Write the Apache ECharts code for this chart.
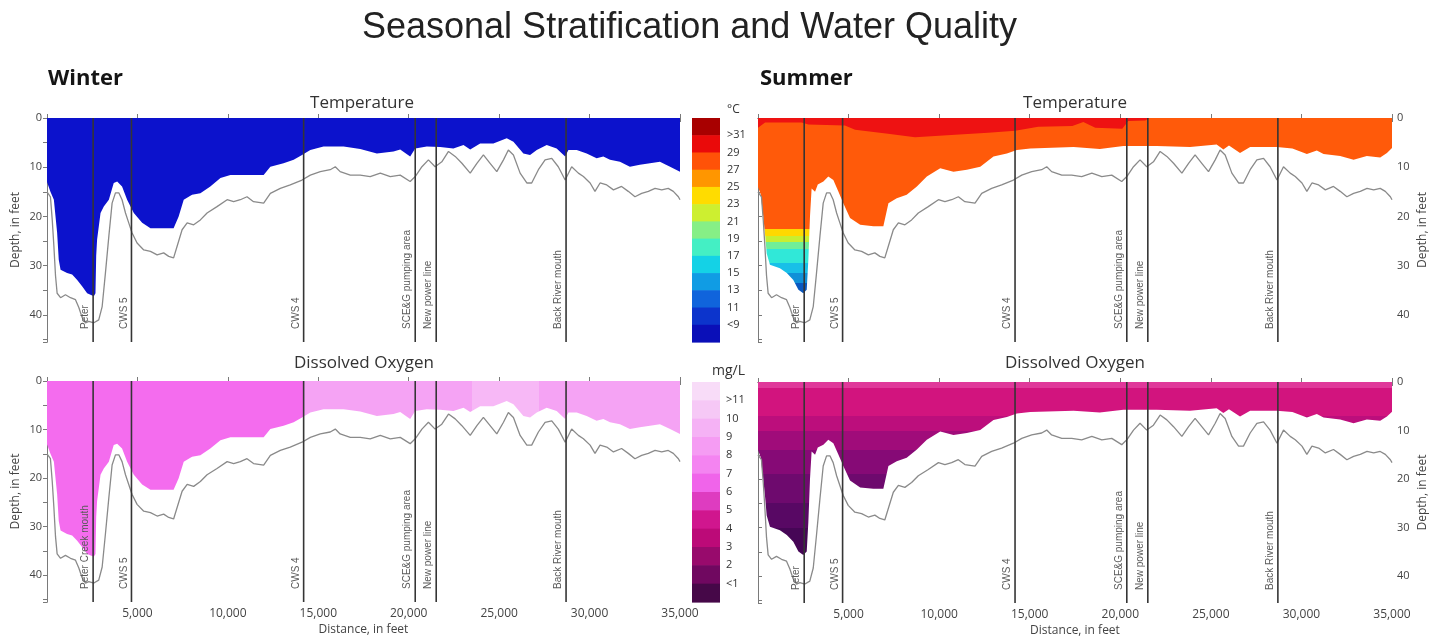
<!DOCTYPE html>
<html><head><meta charset="utf-8">
<script src="https://cdn.jsdelivr.net/npm/echarts@6.0.0/dist/echarts.min.js"></script>
<style>html,body{margin:0;padding:0;background:#fff;}#chart{width:1445px;height:640px;}</style>
</head><body><div id="chart"></div>
<script>
// ---------------- DATA ----------------
// River-bed profile: [distance ft, depth ft]
const bedDepth = [[0,15],[190,16],[290,20.7],[380,26],[470,32],[560,35.6],[750,36.5],[1020,35.9],[1300,36.5],[1575,36.9],[1760,38.5],[1940,40.5],[2130,41.6],[2310,41.3],[2590,41.6],[2860,41],[3050,38.3],[3230,31.5],[3420,24],[3600,17.3],[3785,15.2],[3970,15.2],[4150,16.6],[4340,19.3],[4520,21.3],[4700,23.3],[4980,25.4],[5350,26.8],[5720,27.1],[6090,27.8],[6450,27.4],[6730,28.1],[7000,28.4],[7190,26.1],[7470,22.7],[7750,21.3],[8110,21.7],[8480,20.7],[8850,19.3],[9400,18],[9960,16.6],[10320,17],[10690,16.6],[11060,16],[11420,17],[11980,17.3],[12350,15.3],[12900,14.3],[13450,13.6],[14100,12.6],[14560,11.6],[15110,10.9],[15660,10.5],[15940,9.9],[16210,10.9],[16770,11.6],[17320,11.6],[17870,11.9],[18430,11.2],[18980,11.9],[19530,11.6],[20080,12.9],[20360,11.9],[20730,9.9],[21090,8.5],[21460,9.9],[21830,8.9],[22200,6.8],[22570,7.8],[22940,9.2],[23400,11.2],[23770,9.2],[24130,7.5],[24500,9.2],[24870,10.9],[25240,8.5],[25510,6.5],[25790,7.5],[26160,11.2],[26530,13.2],[26800,13.2],[27170,10.5],[27540,8.5],[27910,8.2],[28270,9.9],[28650,12.6],[29010,9.9],[29380,11.2],[29660,11.9],[30030,13.2],[30300,14.9],[30580,13.2],[30950,13.6],[31320,14.6],[31770,13.9],[32140,14.9],[32510,16],[32880,15.3],[33250,14.9],[33620,14.3],[33990,14.6],[34350,14.3],[34630,14.9],[34910,16],[35000,16.6]];

// Bottom of the measured (coloured) water section, winter survey
const winterExtent = [[0,13],[190,15],[380,16.6],[560,23.3],[650,28.8],[750,30.8],[1110,31.5],[1390,31.8],[1670,32.9],[1940,34.2],[2220,35.6],[2590,36.2],[2680,35.6],[2720,28],[2770,24.7],[2960,19.3],[3140,18],[3420,16.6],[3690,13.2],[3880,12.9],[4150,13.9],[4430,16.6],[4800,19.3],[5260,21.3],[5720,22.4],[6270,22.4],[7000,22.4],[7280,20],[7560,16.6],[8020,15.6],[8480,15.3],[9030,13.9],[9590,12.2],[10140,11.6],[10870,11.6],[11980,11.6],[12350,9.9],[13080,9.2],[13640,8.5],[14100,7.5],[14560,6.5],[15290,5.8],[16400,5.8],[17320,6.3],[18240,7.2],[19160,6.8],[19530,6.4],[20080,7.8],[20360,6.2],[21000,5.8],[21740,5.9],[22470,6.2],[23030,5.5],[23400,6.4],[23950,5.2],[24680,5.2],[25420,4.1],[25790,4.8],[26340,7.2],[26710,7.5],[27080,6.5],[27630,5.5],[28180,6.2],[28650,7.8],[28830,6.5],[29290,6.5],[29840,7.2],[30390,8.2],[30760,7.8],[31130,8.5],[31680,8.9],[32230,9.9],[32780,9.5],[33340,9.2],[33890,8.9],[34450,9.9],[35000,10.9]];

// Bottom of the measured (coloured) water section, summer survey
const summerExtent = [[0,14],[150,15.5],[290,20],[400,24],[480,27.5],[660,29.8],[1210,30.5],[1590,31.5],[1950,32.9],[2230,34.9],[2500,35.6],[2690,34.9],[2780,28.8],[2870,20],[2960,14.3],[3150,15],[3300,13.5],[3610,12.9],[3880,11.9],[4160,12.6],[4430,14.9],[4710,17.3],[5080,20.3],[5640,21.7],[6370,22],[6920,22],[7200,17.3],[7660,16.3],[8210,15.6],[8770,13.9],[9320,11.9],[10060,10.2],[10790,10.9],[11530,10.5],[12270,9.9],[13000,7.8],[13740,7.2],[14290,6.5],[15030,6.2],[17420,5.9],[18870,6.3],[20170,5.7],[22010,5.7],[23850,5.9],[25320,5.4],[25690,6.4],[26000,5.6],[26610,7.1],[27170,5.9],[28640,5.9],[29500,6.2],[30300,7.3],[30850,6.6],[31220,7.3],[32140,7.7],[32880,8.5],[33610,7.7],[34350,8.0],[34720,7.1],[35000,6.1]];

// Summer warm surface layer (29-31 °C) bottom depth
const summerWarmLayer = [[0,2.0],[390,0.9],[2410,0.9],[2780,1.3],[4800,1.5],[5360,2.4],[7180,3.2],[8670,3.9],[10880,3.4],[12700,3.0],[14200,2.6],[15470,1.8],[17350,1.6],[17960,0.8],[18620,2.0],[20110,2.2],[20440,0.6],[21380,0.5],[21600,0]];

// Landmarks along the section
const markerDistances = [2550, 4670, 14190, 20360, 21520, 28700];
const markerLabels = ['Peter', 'CWS 5', 'CWS 4', 'SCE&G pumping area', 'New power line', 'Back River mouth'];
const markerLabelsWinterDO = ['Peter Creek mouth', 'CWS 5', 'CWS 4', 'SCE&G pumping area', 'New power line', 'Back River mouth'];

// Colour scales
const tempLegendLabels = ['>31','29','27','25','23','21','19','17','15','13','11','<9'];
const tempLegendColors = ['#a80000','#ea0a0a','#ff5208','#ff9600','#ffdc00','#cdef30','#86ef86','#44efc4','#14d2e6','#109ce4','#1064dc','#0c34cc','#0a0fb8'];
const doLegendLabels = ['>11','10','9','8','7','6','5','4','3','2','<1'];
const doLegendColors = ['#f8dcf8','#f6c8f6','#f5b2f5','#f59cf3','#f484f1','#f064ea','#de3cc0','#d0168e','#bc0a78','#980a6c','#700860','#460848'];

// Depth bands [fromDepth, toDepth, colour]
const summerTempDepthBands = [[-5,22.6,'#ff5a0a'],[22.6,24.0,'#ffd800'],[24.0,25.2,'#c8ee30'],[25.2,26.6,'#70ee98'],[26.6,29.5,'#30e8d8'],[29.5,31.5,'#18c0e8'],[31.5,33.5,'#1090d8'],[33.5,60,'#0a58c0']];
const summerDODepthBands = [[-5,1.2,'#e0389a'],[1.2,7.0,'#d2147e'],[7.0,10,'#bc0e7c'],[10,14,'#a00c7a'],[14,19,'#860a76'],[19,25,'#6e0a6e'],[25,30,'#580864'],[30,60,'#460656']];
// Distance zones [fromDist, toDist, colour]
const winterDODistanceZones = [[-1000,14190,'#f46cee'],[14190,23500,'#f5a3f4'],[23500,27200,'#f7b8f6'],[27200,40000,'#f5a3f4']];
const winterTempColor = '#0c12cc';
const summerWarmColor = '#ee1212';

// ---------------- CHART ----------------
const DEPTH_MAX = 45.5;
const chart = echarts.init(document.getElementById('chart'), null, {renderer: 'canvas'});
const FONT = 'Open Sans';
const grids = [
  {left: 47, top: 118, width: 633, height: 224},   // winter temp
  {left: 758, top: 118, width: 634, height: 224},  // summer temp
  {left: 47, top: 381, width: 633, height: 221},   // winter DO
  {left: 758, top: 382, width: 634, height: 221},  // summer DO
  {left: 692, top: 118, width: 28, height: 224},   // temp colour bar
  {left: 692, top: 382, width: 28, height: 220}    // DO colour bar
];
const axisColor = '#7a7a7a';
const xAxes = [], yAxes = [];
for (let g = 0; g < 4; g++) {
  const bottomRow = g >= 2;
  xAxes[g] = {gridIndex: g, type: 'value', min: 0, max: 35000, interval: 5000, position: 'bottom',
    axisLine: {show: true, lineStyle: {color: axisColor}}, axisTick: {show: true, inside: true, length: 4, lineStyle: {color: axisColor}},
    splitLine: {show: false},
    axisLabel: {show: bottomRow, color: '#444', fontSize: 12, fontFamily: FONT, margin: 6,
      formatter: v => (v === 0 ? '' : v.toLocaleString('en-US'))},
    name: bottomRow ? 'Distance, in feet' : '', nameLocation: 'middle', nameGap: 22,
    nameTextStyle: {color: '#444', fontSize: 12, fontFamily: FONT}};
  xAxes[4 + g] = {gridIndex: g, type: 'value', min: 0, max: 35000, interval: 5000, position: 'top',
    axisLine: {show: true, lineStyle: {color: axisColor}}, axisTick: {show: true, inside: true, length: 4, lineStyle: {color: axisColor}},
    splitLine: {show: false}, axisLabel: {show: false}};
  const summer = (g === 1 || g === 3);
  yAxes[g] = {gridIndex: g, type: 'value', inverse: true, min: 0, max: DEPTH_MAX, interval: 10,
    position: summer ? 'right' : 'left',
    axisLine: {show: true, lineStyle: {color: axisColor}}, axisTick: {show: true, inside: false, length: 3, lineStyle: {color: axisColor}},
    splitLine: {show: false},
    axisLabel: {color: '#444', fontSize: 11, fontFamily: FONT, margin: 5, showMaxLabel: false,
      formatter: v => (Math.abs(v % 10) < 1e-9 ? String(v) : '')},
    name: 'Depth, in feet', nameLocation: 'middle', nameGap: 25, nameRotate: 90,
    nameTextStyle: {color: '#444', fontSize: 12, fontFamily: FONT}};
  yAxes[4 + g] = {gridIndex: g, type: 'value', inverse: true, min: 0, max: DEPTH_MAX, interval: 5,
    position: summer ? 'left' : 'right',
    axisLine: {show: true, lineStyle: {color: axisColor}}, axisTick: {show: true, inside: true, length: 4, lineStyle: {color: axisColor}},
    splitLine: {show: false}, axisLabel: {show: false}};
}
// colour bar axes (indices 8 and 9)
xAxes[8] = {gridIndex: 4, type: 'value', min: 0, max: 1, show: false};
xAxes[9] = {gridIndex: 5, type: 'value', min: 0, max: 1, show: false};
yAxes[8] = {gridIndex: 4, type: 'value', inverse: true, min: 0, max: tempLegendColors.length, interval: 1, position: 'right',
  axisLine: {show: false}, axisTick: {show: false}, splitLine: {show: false},
  axisLabel: {color: '#333', fontSize: 11, fontFamily: FONT, margin: 7, showMinLabel: false, showMaxLabel: false,
    formatter: v => (v >= 1 && v <= tempLegendLabels.length ? tempLegendLabels[v - 1] : '')}};
yAxes[9] = {gridIndex: 5, type: 'value', inverse: true, min: 0, max: doLegendColors.length, interval: 1, position: 'right',
  axisLine: {show: false}, axisTick: {show: false}, splitLine: {show: false},
  axisLabel: {color: '#333', fontSize: 11, fontFamily: FONT, margin: 6, showMinLabel: false, showMaxLabel: false,
    formatter: v => (v >= 1 && v <= doLegendLabels.length ? doLegendLabels[v - 1] : '')}};

function areaSeries(g, data, extra) {
  return Object.assign({type: 'line', xAxisIndex: g, yAxisIndex: g, data: data, symbol: 'none', showSymbol: false,
    lineStyle: {width: 0}, areaStyle: {opacity: 1}, z: 2, silent: true, animation: false}, extra || {});
}
function bedSeries(g) {
  return {type: 'line', xAxisIndex: g, yAxisIndex: g, data: bedDepth, symbol: 'none', showSymbol: false,
    lineStyle: {color: '#8a8a8a', width: 1.3}, itemStyle: {color: '#8a8a8a'}, z: 4, silent: true, animation: false};
}
function markerSeries(g, labels, labelColor) {
  return {type: 'custom', xAxisIndex: g, yAxisIndex: g, z: 6, silent: true, animation: false,
    data: markerDistances.map(d => [d, 0]),
    renderItem: function (params, api) {
      const d = api.value(0);
      const p0 = api.coord([d, 0]);
      const p1 = api.coord([d, DEPTH_MAX]);
      return {type: 'group', children: [
        {type: 'line', shape: {x1: p0[0], y1: p0[1], x2: p1[0], y2: p1[1]}, style: {stroke: '#353535', lineWidth: 1.6}},
        {type: 'text', x: p1[0] - 2.5, y: p1[1] - 13, rotation: Math.PI / 2,
          style: {text: labels[params.dataIndex], fill: labelColor || '#5a5a5a', fontSize: 10, fontFamily: 'Liberation Sans',
            align: 'left', verticalAlign: 'bottom'}}
      ]};
    }};
}
function colorbarSeries(axisIdx, colors) {
  return {type: 'custom', xAxisIndex: axisIdx, yAxisIndex: axisIdx, silent: true, animation: false, z: 2,
    data: colors.map((c, i) => [0.5, i + 0.5]),
    renderItem: function (params, api) {
      const i = params.dataIndex;
      const a = api.coord([0, i]);
      const b = api.coord([1, i + 1]);
      return {type: 'rect', shape: {x: Math.min(a[0], b[0]), y: Math.min(a[1], b[1]),
        width: Math.abs(b[0] - a[0]), height: Math.abs(b[1] - a[1]) + 0.6}, style: {fill: colors[i]}};
    }};
}

const series = [
  // 0..2 winter temperature
  areaSeries(0, winterExtent, {areaStyle: {color: winterTempColor, opacity: 1}, itemStyle: {color: winterTempColor}}),
  bedSeries(0),
  markerSeries(0, markerLabels),
  // 3..6 summer temperature
  areaSeries(1, summerExtent),
  areaSeries(1, summerWarmLayer, {z: 3, areaStyle: {color: summerWarmColor, opacity: 1}, itemStyle: {color: summerWarmColor}}),
  bedSeries(1),
  markerSeries(1, markerLabels),
  // 7..9 winter DO
  areaSeries(2, winterExtent),
  bedSeries(2),
  markerSeries(2, markerLabelsWinterDO),
  // 10..12 summer DO
  areaSeries(3, summerExtent),
  bedSeries(3),
  markerSeries(3, markerLabels),
  // 13..14 colour bars
  colorbarSeries(8, tempLegendColors),
  colorbarSeries(9, doLegendColors)
];

function pieces(bands) {
  return bands.map(b => ({min: b[0], max: b[1], color: b[2]}));
}
const visualMap = [
  {type: 'piecewise', show: false, seriesIndex: 3, dimension: 1, pieces: pieces(summerTempDepthBands), outOfRange: {color: '#ff5a0a'}},
  {type: 'piecewise', show: false, seriesIndex: 7, dimension: 0, pieces: pieces(winterDODistanceZones), outOfRange: {color: '#f5a3f4'}},
  {type: 'piecewise', show: false, seriesIndex: 10, dimension: 1, pieces: pieces(summerDODepthBands), outOfRange: {color: '#d2147e'}}
];

const titleBase = {padding: 0};
const subStyle = {fontSize: 17, fontWeight: 'normal', color: '#333', fontFamily: FONT};
const title = [
  Object.assign({text: 'Seasonal Stratification and Water Quality', left: 362, top: 10,
    textStyle: {fontSize: 36, fontWeight: 'normal', color: '#222', fontFamily: 'Liberation Sans'}}, titleBase),
  Object.assign({text: 'Winter', left: 48, top: 68, textStyle: {fontSize: 22, fontWeight: 'bold', color: '#151515', fontFamily: FONT}}, titleBase),
  Object.assign({text: 'Summer', left: 760, top: 68, textStyle: {fontSize: 22, fontWeight: 'bold', color: '#151515', fontFamily: FONT}}, titleBase),
  Object.assign({text: 'Temperature', left: 362, top: 95, textAlign: 'center', textStyle: subStyle}, titleBase),
  Object.assign({text: 'Temperature', left: 1075, top: 95, textAlign: 'center', textStyle: subStyle}, titleBase),
  Object.assign({text: 'Dissolved Oxygen', left: 364, top: 355, textAlign: 'center', textStyle: subStyle}, titleBase),
  Object.assign({text: 'Dissolved Oxygen', left: 1075, top: 355, textAlign: 'center', textStyle: subStyle}, titleBase),
  Object.assign({text: '°C', left: 727, top: 104, textStyle: {fontSize: 12, fontWeight: 'normal', color: '#333', fontFamily: FONT}}, titleBase),
  Object.assign({text: 'mg/L', left: 712, top: 364, textStyle: {fontSize: 14, fontWeight: 'normal', color: '#333', fontFamily: FONT}}, titleBase)
];

chart.setOption({
  animation: false,
  backgroundColor: '#ffffff',
  textStyle: {fontFamily: FONT},
  title: title,
  grid: grids,
  xAxis: xAxes,
  yAxis: yAxes,
  visualMap: visualMap,
  series: series
});
</script></body></html>
